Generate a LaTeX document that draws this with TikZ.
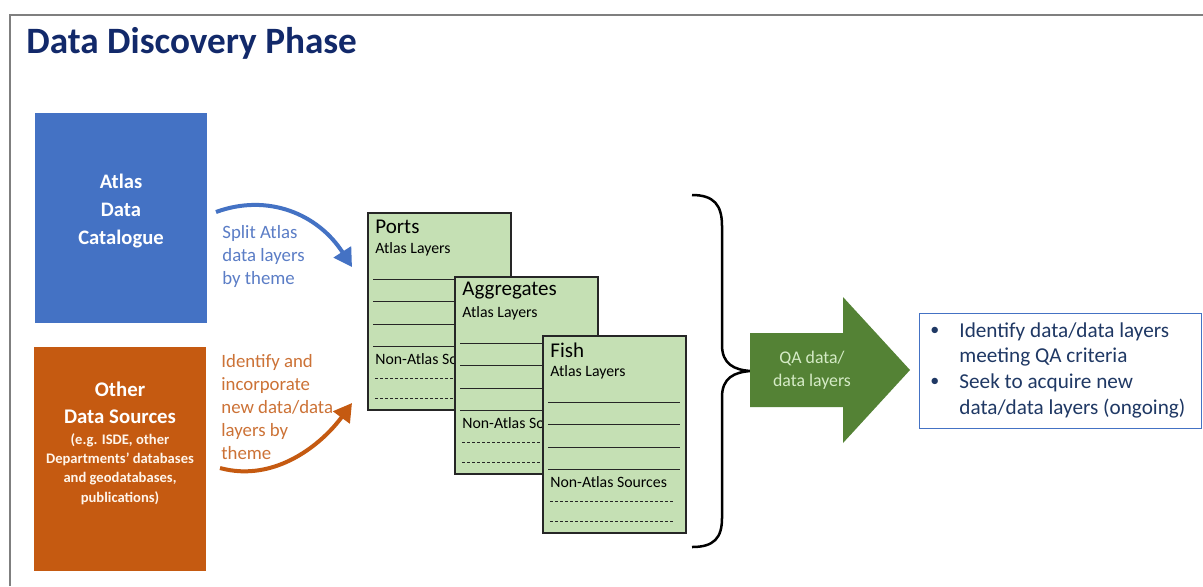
\documentclass[tikz,border=0pt]{standalone}
\usepackage{fontspec}
\setmainfont{Carlito}
\usetikzlibrary{arrows.meta}
\definecolor{titlenavy}{HTML}{12296A}
\definecolor{boxblue}{HTML}{4472C4}
\definecolor{boxorange}{HTML}{C55A11}
\definecolor{txtblue}{HTML}{5B7DC6}
\definecolor{txtorange}{HTML}{CC7236}
\definecolor{cardgreen}{HTML}{C5E0B4}
\definecolor{arrowgreen}{HTML}{548235}
\definecolor{qatext}{HTML}{D5EBC6}
\definecolor{bullettext}{HTML}{1F3864}
\definecolor{framegray}{HTML}{7F7F7F}
\tikzset{
  cardbox/.style={draw=black!85, fill=cardgreen, line width=0.75pt, anchor=north west,
    minimum width=71.5pt, minimum height=98.5pt, inner sep=0pt},
  cardshadow/.style={fill=black!45},
  cardline/.style={draw=black!85, line width=0.5pt},
  carddash/.style={draw=black!85, line width=0.45pt, dash pattern=on 1.6pt off 0.9pt},
  cardtitle/.style={anchor=west, inner sep=0pt, font=\fontsize{10.5pt}{12pt}\selectfont},
  cardsub/.style={anchor=west, inner sep=0pt, font=\fontsize{7.9pt}{9pt}\selectfont},
  flowarrow/.style={line width=2pt, -{Triangle[length=9pt,width=10pt]}},
  sidetext/.style={anchor=north west, inner sep=0pt, align=left,
    font=\fontsize{9.4pt}{11.5pt}\selectfont},
  bullettxt/.style={anchor=west, inner sep=0pt, text=bullettext,
    font=\fontsize{10.6pt}{12.5pt}\selectfont},
}
\newcommand\drawcard[4]{%
  \begin{scope}[shift={(#2,#3)}]
    \fill[cardshadow] (2,2) rectangle (145,199);
    \node[cardbox] (#1) at (0,0) {};
    \node[cardtitle] (#1-title) at (8,15) {#4};
    \node[cardsub] (#1-atlas) at (8,37) {Atlas Layers};
    \draw[cardline] (6,67) -- (138,67);
    \draw[cardline] (6,89) -- (138,89);
    \draw[cardline] (6,112) -- (138,112);
    \draw[cardline] (6,134) -- (138,134);
    \node[cardsub] (#1-non) at (8,147) {Non-Atlas Sources};
    \draw[carddash] (8,166) -- (131,166);
    \draw[carddash] (8,186) -- (131,186);
  \end{scope}}
\begin{document}
\begin{tikzpicture}[x=0.5pt,y=-0.5pt]
\useasboundingbox (0,0) rectangle (1203,586);
\fill[white] (0,0) rectangle (1203,586);
% frame
\draw[framegray, line width=1pt] (10,586) -- (10,15) -- (1203,15);
% title
\node[anchor=west, inner sep=0pt, text=titlenavy,
  font=\fontsize{18.6pt}{20pt}\selectfont\bfseries] (title) at (26,43) {Data Discovery Phase};
% source boxes
\fill[boxblue] (35,113) rectangle (207,323);
\node[inner sep=0pt, text=white, align=center,
  font=\fontsize{10.3pt}{14pt}\selectfont\bfseries] (atlas) at (121,211) {Atlas\\Data\\Catalogue};
\fill[boxorange] (34,347) rectangle (206,571);
\node[inner sep=0pt, text=white, align=center,
  font=\fontsize{10.4pt}{13.5pt}\selectfont\bfseries] (other) at (120,403) {Other\\Data Sources};
\node[inner sep=0pt, text=white!92!orange, align=center,
  font=\fontsize{7.3pt}{9.6pt}\selectfont\bfseries] (otherdet) at (120,469)
  {(e.g. ISDE, other\\Departments’ databases\\and geodatabases,\\publications)};
% side texts
\node[sidetext, text=txtblue] (splittxt) at (222,225) {Split Atlas\\data layers\\by theme};
\node[sidetext, text=txtorange] (identtxt) at (221,354) {Identify and\\incorporate\\new data/data\\layers by\\theme};
% curved arrows
\coordinate (bs) at (216,212);
\coordinate (be) at (352,267);
\draw[flowarrow, boxblue] (bs) .. controls (268,193) and (318,214) .. (be);
\coordinate (os) at (220,468);
\coordinate (oe) at (352,403);
\draw[flowarrow, boxorange] (os) .. controls (275,483) and (322,444) .. (oe);
% cards
\drawcard{ports}{367}{212}{Ports}
\drawcard{aggr}{454}{276}{Aggregates}
\drawcard{fish}{542}{335}{Fish}
% brace
\draw[black, line width=1.25pt] (692,195) .. controls (714,195) and (722,205) .. (722,226)
  -- (722,345) .. controls (722,364) and (734,370) .. (751,371)
  .. controls (734,372) and (722,378) .. (722,397)
  -- (722,518) .. controls (722,538) and (714,547) .. (692,547);
% green arrow
\fill[arrowgreen] (750,333) -- (843,333) -- (843,297) -- (910,370) -- (843,443) -- (843,407) -- (750,407) -- cycle;
\node[inner sep=0pt, text=qatext, align=center,
  font=\fontsize{8.9pt}{11.5pt}\selectfont] (qa) at (812,370) {QA data/\\data layers};
% bullet box
\draw[boxblue, line width=0.5pt] (919,313) rectangle (1201,428);
\node[bullettxt, font=\fontsize{9pt}{10pt}\selectfont] (b1) at (930,331) {\textbullet};
\node[bullettxt, font=\fontsize{9pt}{10pt}\selectfont] (b2) at (930,382) {\textbullet};
\node[bullettxt] (l1) at (959,332) {Identify data/data layers};
\node[bullettxt] (l2) at (959,357) {meeting QA criteria};
\node[bullettxt] (l3) at (959,383) {Seek to acquire new};
\node[bullettxt] (l4) at (959,409) {data/data layers (ongoing)};
\end{tikzpicture}
\end{document}
